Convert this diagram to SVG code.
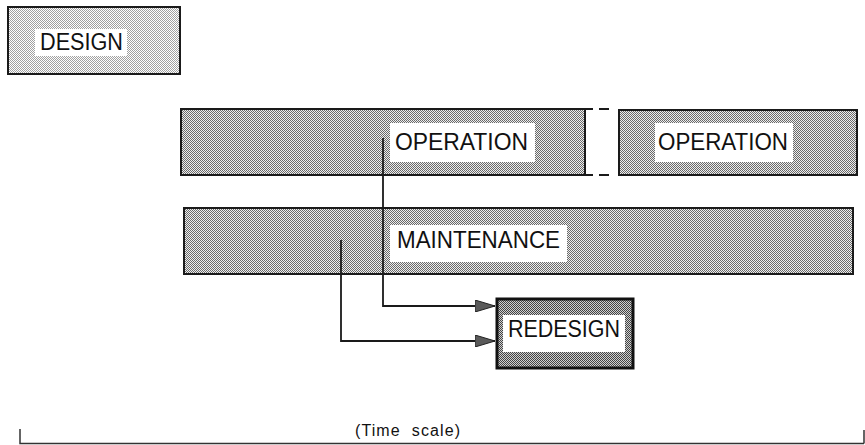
<svg xmlns="http://www.w3.org/2000/svg" width="865" height="445" viewBox="0 0 865 445">
<style>
.box{stroke:#1a1a1a;stroke-width:2}
.lbl{fill:#ffffff}
.t{font-family:"Liberation Sans",Arial,Helvetica,sans-serif;font-size:23px;fill:#111}
.conn{fill:none;stroke:#1a1a1a;stroke-width:1.8}
.scale{fill:none;stroke:#333;stroke-width:1.5}
</style>
<defs>
<pattern id="stLight" width="2" height="2" patternUnits="userSpaceOnUse">
<rect width="2" height="2" fill="#ffffff"/>
<rect x="0" y="0" width="1" height="1" fill="#a0a0a0"/>
<rect x="1" y="1" width="1" height="1" fill="#a0a0a0"/>
</pattern>
<pattern id="stMed" width="2" height="2" patternUnits="userSpaceOnUse">
<rect width="2" height="2" fill="#eeeeee"/>
<rect x="0" y="0" width="1" height="1" fill="#6a6a6a"/>
<rect x="1" y="1" width="1" height="1" fill="#6a6a6a"/>
</pattern>
<pattern id="stDark" width="2" height="2" patternUnits="userSpaceOnUse">
<rect width="2" height="2" fill="#d0d0d0"/>
<rect x="0" y="0" width="1" height="1" fill="#444444"/>
<rect x="1" y="1" width="1" height="1" fill="#444444"/>
</pattern>
<marker id="arr" viewBox="0 0 20 12" refX="20" refY="6" markerWidth="20" markerHeight="12" markerUnits="userSpaceOnUse" orient="auto">
<path d="M0,0 L20,6 L0,12 Z" fill="#5a5a5a" stroke="#222" stroke-width="1"/>
</marker>
</defs>
<rect width="865" height="445" fill="#ffffff"/>

<g id="design">
<rect class="box" x="8" y="7" width="172" height="67" fill="url(#stLight)"/>
<rect class="lbl" x="35" y="29" width="92" height="27"/>
<text class="t" x="40" y="50" textLength="83" lengthAdjust="spacingAndGlyphs">DESIGN</text>
</g>

<g id="operation1">
<rect class="box" x="181" y="109" width="404" height="66" fill="url(#stMed)"/>
<rect class="lbl" x="390" y="123" width="145" height="39"/>
<text class="t" x="395" y="150" textLength="133" lengthAdjust="spacingAndGlyphs">OPERATION</text>
<path d="M585,109 H593 M599,109 H609 M585,175 H593 M599,175 H609" fill="none" stroke="#1a1a1a" stroke-width="2"/>
</g>

<g id="operation2">
<rect class="box" x="619" y="110" width="238" height="65" fill="url(#stMed)"/>
<rect class="lbl" x="655" y="123" width="138" height="39"/>
<text class="t" x="658" y="150" textLength="130" lengthAdjust="spacingAndGlyphs">OPERATION</text>
</g>

<g id="maintenance">
<rect class="box" x="184" y="208" width="669" height="66" fill="url(#stMed)"/>
<rect class="lbl" x="390" y="225" width="177" height="37"/>
<text class="t" x="397" y="248" textLength="163" lengthAdjust="spacingAndGlyphs">MAINTENANCE</text>
</g>

<g id="redesign">
<rect x="497" y="299" width="136" height="69" fill="url(#stDark)" stroke="#111" stroke-width="3"/>
<rect class="lbl" x="503" y="315" width="122" height="37"/>
<text class="t" x="508" y="337" textLength="112" lengthAdjust="spacingAndGlyphs">REDESIGN</text>
</g>

<g id="connectors">
<path class="conn" d="M383,138 V306 H495" marker-end="url(#arr)"/>
<path class="conn" d="M341,240 V341 H495" marker-end="url(#arr)"/>
</g>

<g id="timescale">
<path class="scale" d="M20,429 V443.5 H864 M864,430 V443.5"/>
<text x="355" y="436" font-family="&quot;Liberation Sans&quot;,Arial,sans-serif" font-size="16" fill="#111" textLength="105" lengthAdjust="spacing" xml:space="preserve">(Time  scale)</text>
</g>
</svg>
